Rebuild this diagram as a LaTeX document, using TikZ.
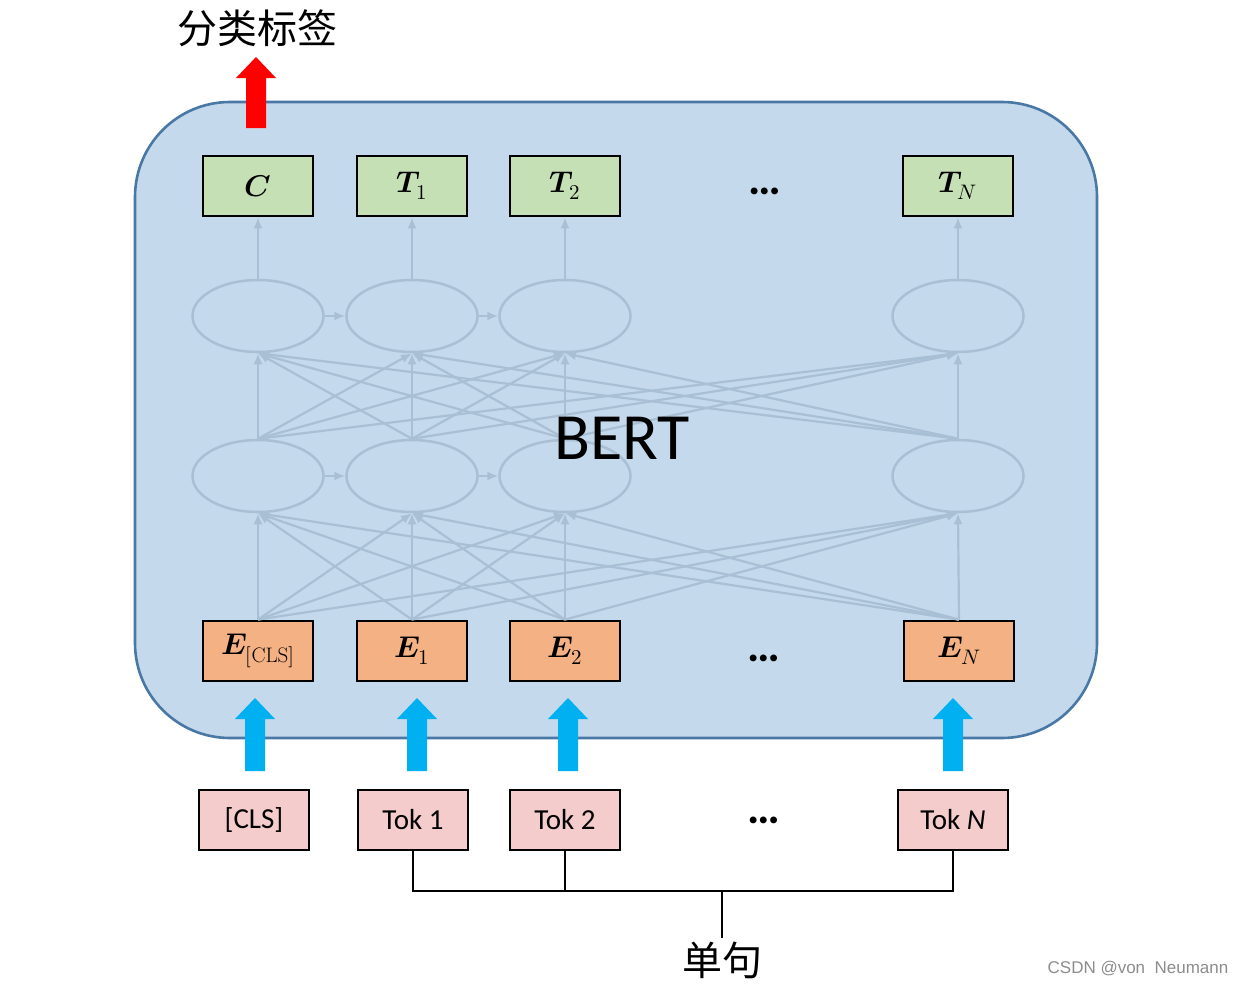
\documentclass[tikz,border=0pt]{standalone}
\usepackage{unicode-math}
\newfontfamily\calibri{Carlito}
\newfontfamily\cinese{Noto Sans CJK SC}
\newfontfamily\filigrana{Liberation Sans}
\usetikzlibrary{shapes.geometric, arrows.meta}
\definecolor{sfondo}{HTML}{C5D9ED}
\definecolor{bordo}{HTML}{4A78A6}
\definecolor{verde}{HTML}{C5E0B4}
\definecolor{arancio}{HTML}{F4B183}
\definecolor{rosa}{HTML}{F4CCCC}
\definecolor{rete}{HTML}{A9BFD4}
\definecolor{azzurro}{HTML}{00B0F0}
\newcommand{\frecciaSu}[4]{% x, y base, y punta, colore
\fill[#4] ({#1-10},#2) -- ({#1-10},{#3+21}) -- ({#1-20},{#3+21}) -- (#1,#3) -- ({#1+20},{#3+21}) -- ({#1+10},{#3+21}) -- ({#1+10},#2) -- cycle;
}

\begin{document}
\begin{tikzpicture}[x = 1pt, y = -1pt,
    scatola/.style = {draw, line width = 2.8pt, minimum width = 110pt, minimum height = 60pt, inner sep = 0pt, font = \fontsize{30}{32}\selectfont},
    tok/.style = {scatola, fill = rosa, font = \calibri\fontsize{29}{32}\selectfont},
    nodo/.style = {ellipse, draw = rete, line width = 2.5pt, minimum width = 131pt, minimum height = 72pt, inner sep = 0pt},
    freccina/.style = {draw = rete, line width = 2.2pt, -{Latex[length = 11pt, width = 9pt]}},
    puntini/.style = {anchor = base, font = \calibri\bfseries\fontsize{46}{46}\selectfont}]
    \useasboundingbox (0,0) rectangle (1242,985);
    % Sfondo BERT
    \draw[bordo, fill = sfondo, line width = 2.6pt, rounded corners = 95pt] (135,102) rectangle (1097,738);
    % Uscite
    \node[scatola, fill = verde] (t0) at (258,186) {$\symbfit{C}$};
    \node[scatola, fill = verde] (t1) at (412,186) {$\symbfit{T}_{1}$};
    \node[scatola, fill = verde] (t2) at (565,186) {$\symbfit{T}_{2}$};
    \node[scatola, fill = verde] (t3) at (958,186) {$\symbfit{T}_{N}$};
    \node[puntini] (pt) at (765,194) {…};
    % Embedding
    \node[scatola, fill = arancio] (e0) at (258,651) {$\symbfit{E}_{[\mathrm{CLS}]}$};
    \node[scatola, fill = arancio] (e1) at (412,651) {$\symbfit{E}_{1}$};
    \node[scatola, fill = arancio] (e2) at (565,651) {$\symbfit{E}_{2}$};
    \node[scatola, fill = arancio] (e3) at (959,651) {$\symbfit{E}_{N}$};
    \node[puntini] (pe) at (764,661) {…};
    % Strati nascosti
    \foreach \i/\x in {0/258, 1/412, 2/565, 3/958} {
        \node[nodo] (l\i) at (\x,476) {};
        \node[nodo] (u\i) at (\x,316) {};
    }
    \foreach \i in {0,...,3} {
        \foreach \j in {0,...,3} {
            \draw[freccina] (e\i.north) -- (l\j.south);
            \draw[freccina] (l\i.north) -- (u\j.south);
        }
        \draw[freccina] (u\i.north) -- (t\i.south);
    }
    \foreach \a/\b in {0/1, 1/2} {
        \draw[freccina] (l\a.east) -- (l\b.west);
        \draw[freccina] (u\a.east) -- (u\b.west);
    }
    \node[font = \calibri\fontsize{66}{66}\selectfont] (bert) at (622,438) {BERT};
    % Token
    \node[tok] (tok0) at (254,820) {[CLS]};
    \node[tok] (tok1) at (413,820) {Tok 1};
    \node[tok] (tok2) at (565,820) {Tok 2};
    \node[tok] (tok3) at (953,820) {Tok \textit{N}};
    \node[puntini] (pk) at (764,823) {…};
    % Frecce
    \frecciaSu{255}{771}{698}{azzurro}
    \frecciaSu{417}{771}{698}{azzurro}
    \frecciaSu{568}{771}{698}{azzurro}
    \frecciaSu{953}{771}{698}{azzurro}
    \frecciaSu{256}{128}{57}{red}
    % Etichette
    \node[font = \cinese\fontsize{40}{40}\selectfont] (classe) at (257,28) {分类标签};
    \node[font = \cinese\fontsize{40}{40}\selectfont] (frase) at (722,960) {单句};
    \coordinate (giunto) at (722,891);
    \draw[line width = 2.6pt] (tok1.south) -- (tok1.south |- giunto) -- (tok3.south |- giunto) -- (tok3.south);
    \draw[line width = 2.6pt] (tok2.south) -- (tok2.south |- giunto);
    \draw[line width = 2.6pt] (giunto) -- (frase.north);
    \node[font = \filigrana\fontsize{17}{17}\selectfont, text = black!45] (csdn) at (1138,969) {CSDN @von\ \ Neumann};
\end{tikzpicture}
\end{document}
